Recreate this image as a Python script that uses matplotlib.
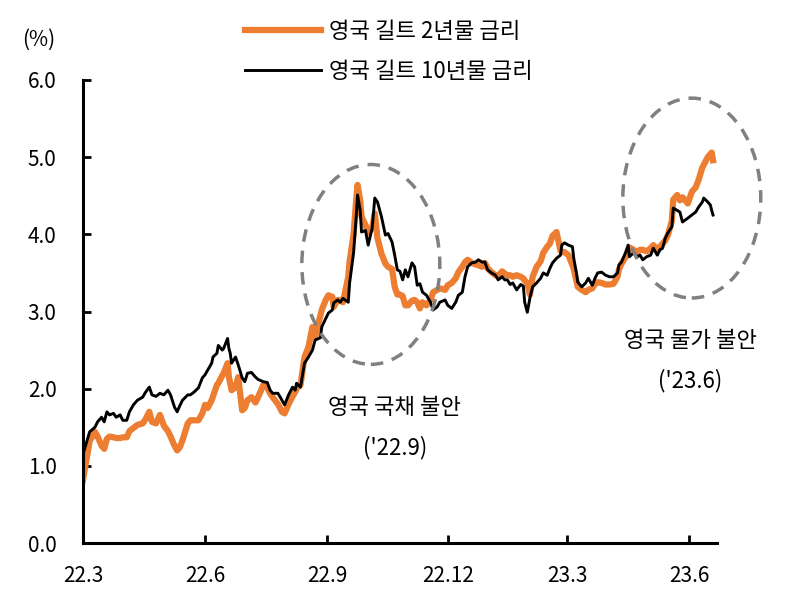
import matplotlib
matplotlib.use("Agg")
import matplotlib.pyplot as plt
import matplotlib.dates as mdates
from matplotlib.patches import Ellipse
import pandas as pd

plt.rcParams['font.family'] = ['Noto Sans CJK KR', 'DejaVu Sans']
plt.rcParams['font.weight'] = 'light'

# observation dates (shared by both series)
dates = [
    "2022-03-01", "2022-03-06", "2022-03-10", "2022-03-12", "2022-03-15", "2022-03-17", "2022-03-19", "2022-03-21", "2022-03-24", "2022-03-26",
    "2022-03-29", "2022-03-31", "2022-04-03", "2022-04-05", "2022-04-08", "2022-04-11", "2022-04-15", "2022-04-17", "2022-04-20", "2022-04-22",
    "2022-04-25", "2022-04-28", "2022-05-01", "2022-05-04", "2022-05-06", "2022-05-09", "2022-05-11", "2022-05-13", "2022-05-15", "2022-05-19",
    "2022-05-21", "2022-05-24", "2022-05-27", "2022-05-30", "2022-06-01", "2022-06-03", "2022-06-06", "2022-06-07", "2022-06-10", "2022-06-11",
    "2022-06-14", "2022-06-15", "2022-06-18", "2022-06-19", "2022-06-20", "2022-06-21", "2022-06-24", "2022-06-26", "2022-06-29", "2022-07-01",
    "2022-07-03", "2022-07-06", "2022-07-09", "2022-07-11", "2022-07-15", "2022-07-18", "2022-07-20", "2022-07-22", "2022-07-26", "2022-07-29",
    "2022-07-31", "2022-08-03", "2022-08-06", "2022-08-08", "2022-08-09", "2022-08-12", "2022-08-15", "2022-08-18", "2022-08-21", "2022-08-23",
    "2022-08-27", "2022-08-28", "2022-08-31", "2022-09-02", "2022-09-05", "2022-09-06", "2022-09-09", "2022-09-11", "2022-09-13", "2022-09-17",
    "2022-09-18", "2022-09-21", "2022-09-23", "2022-09-24", "2022-09-26", "2022-09-27", "2022-09-30", "2022-10-02", "2022-10-05", "2022-10-07",
    "2022-10-09", "2022-10-12", "2022-10-15", "2022-10-17", "2022-10-20", "2022-10-22", "2022-10-24", "2022-10-26", "2022-10-28", "2022-10-30",
    "2022-11-01", "2022-11-04", "2022-11-06", "2022-11-08", "2022-11-10", "2022-11-12", "2022-11-15", "2022-11-18", "2022-11-20", "2022-11-23",
    "2022-11-25", "2022-11-29", "2022-12-01", "2022-12-04", "2022-12-07", "2022-12-09", "2022-12-12", "2022-12-14", "2022-12-16", "2022-12-19",
    "2022-12-22", "2022-12-24", "2022-12-27", "2022-12-29", "2022-12-31", "2023-01-03", "2023-01-06", "2023-01-08", "2023-01-11", "2023-01-13",
    "2023-01-15", "2023-01-17", "2023-01-19", "2023-01-22", "2023-01-25", "2023-01-27", "2023-01-28", "2023-01-30", "2023-02-01", "2023-02-03",
    "2023-02-06", "2023-02-09", "2023-02-11", "2023-02-14", "2023-02-16", "2023-02-18", "2023-02-21", "2023-02-24", "2023-02-25", "2023-02-27",
    "2023-03-02", "2023-03-05", "2023-03-06", "2023-03-08", "2023-03-09", "2023-03-12", "2023-03-15", "2023-03-17", "2023-03-20", "2023-03-22",
    "2023-03-24", "2023-03-27", "2023-03-30", "2023-04-02", "2023-04-05", "2023-04-08", "2023-04-09", "2023-04-11", "2023-04-14", "2023-04-16",
    "2023-04-17", "2023-04-20", "2023-04-23", "2023-04-25", "2023-04-27", "2023-04-30", "2023-05-03", "2023-05-05", "2023-05-08", "2023-05-10",
    "2023-05-12", "2023-05-14", "2023-05-16", "2023-05-19", "2023-05-20", "2023-05-23", "2023-05-25", "2023-05-27", "2023-05-31", "2023-06-03",
    "2023-06-06", "2023-06-08", "2023-06-11", "2023-06-12", "2023-06-15", "2023-06-17", "2023-06-18", "2023-06-19",
]

# UK gilt 2y yield (%)
gilt_2y = [
    0.82, 1.32, 1.44, 1.38, 1.26, 1.22, 1.35, 1.38, 1.37, 1.36,
    1.36, 1.37, 1.37, 1.45, 1.49, 1.53, 1.55, 1.60, 1.70, 1.57,
    1.55, 1.66, 1.52, 1.45, 1.38, 1.26, 1.20, 1.24, 1.33, 1.55,
    1.59, 1.59, 1.59, 1.68, 1.79, 1.75, 1.85, 1.90, 2.05, 2.07,
    2.17, 2.20, 2.33, 2.15, 2.07, 1.98, 2.02, 2.15, 1.72, 1.75,
    1.85, 1.89, 1.82, 1.89, 2.05, 2.01, 1.94, 1.89, 1.80, 1.70,
    1.68, 1.80, 1.90, 1.96, 2.00, 2.05, 2.41, 2.54, 2.80, 2.67,
    2.95, 3.02, 3.15, 3.21, 3.19, 3.06, 3.15, 3.14, 3.12, 3.45,
    3.65, 4.00, 4.45, 4.64, 4.44, 4.23, 4.12, 4.02, 4.08, 4.27,
    3.95, 3.75, 3.62, 3.58, 3.55, 3.32, 3.22, 3.22, 3.20, 3.08,
    3.08, 3.14, 3.15, 3.12, 3.04, 3.12, 3.08, 3.15, 3.25, 3.28,
    3.30, 3.28, 3.34, 3.37, 3.43, 3.51, 3.58, 3.64, 3.67, 3.63,
    3.61, 3.60, 3.58, 3.63, 3.56, 3.51, 3.47, 3.46, 3.52, 3.49,
    3.47, 3.47, 3.45, 3.47, 3.45, 3.43, 3.40, 3.37, 3.22, 3.45,
    3.58, 3.65, 3.76, 3.84, 3.88, 3.98, 4.03, 3.79, 3.77, 3.77,
    3.73, 3.60, 3.55, 3.40, 3.32, 3.28, 3.25, 3.28, 3.30, 3.36,
    3.38, 3.37, 3.35, 3.35, 3.36, 3.45, 3.54, 3.62, 3.70, 3.79,
    3.83, 3.80, 3.77, 3.80, 3.80, 3.78, 3.82, 3.86, 3.80, 3.84,
    3.88, 3.92, 3.99, 4.18, 4.45, 4.51, 4.44, 4.48, 4.40, 4.55,
    4.61, 4.70, 4.87, 4.90, 5.00, 5.04, 5.06, 4.96,
]

# UK gilt 10y yield (%)
gilt_10y = [
    1.15, 1.44, 1.50, 1.57, 1.63, 1.57, 1.70, 1.66, 1.68, 1.63,
    1.66, 1.59, 1.59, 1.70, 1.79, 1.85, 1.89, 1.95, 2.02, 1.92,
    1.90, 1.94, 1.92, 1.98, 1.92, 1.76, 1.70, 1.78, 1.85, 1.92,
    1.92, 1.96, 2.01, 2.14, 2.18, 2.24, 2.33, 2.41, 2.46, 2.56,
    2.50, 2.52, 2.65, 2.52, 2.46, 2.33, 2.41, 2.31, 2.14, 2.09,
    2.20, 2.21, 2.15, 2.12, 2.09, 2.08, 1.98, 1.94, 1.94, 1.85,
    1.79, 1.92, 2.02, 1.98, 2.07, 2.02, 2.33, 2.41, 2.50, 2.63,
    2.66, 2.80, 2.91, 2.98, 3.02, 3.11, 3.15, 3.12, 3.17, 3.12,
    3.37, 3.76, 4.23, 4.51, 4.31, 4.03, 4.05, 3.86, 4.08, 4.47,
    4.42, 4.23, 3.99, 4.01, 3.90, 3.73, 3.54, 3.52, 3.41, 3.54,
    3.45, 3.63, 3.58, 3.34, 3.36, 3.25, 3.21, 3.12, 3.02, 3.06,
    3.12, 3.15, 3.08, 3.04, 3.12, 3.21, 3.25, 3.45, 3.58, 3.63,
    3.64, 3.67, 3.64, 3.64, 3.54, 3.50, 3.47, 3.41, 3.45, 3.41,
    3.41, 3.35, 3.37, 3.28, 3.35, 3.33, 3.12, 2.99, 3.18, 3.32,
    3.37, 3.43, 3.50, 3.47, 3.56, 3.63, 3.69, 3.73, 3.86, 3.89,
    3.86, 3.84, 3.69, 3.50, 3.38, 3.32, 3.37, 3.43, 3.34, 3.43,
    3.50, 3.51, 3.47, 3.45, 3.45, 3.50, 3.60, 3.64, 3.76, 3.86,
    3.71, 3.76, 3.71, 3.73, 3.67, 3.71, 3.73, 3.82, 3.73, 3.80,
    3.82, 3.95, 4.02, 4.10, 4.34, 4.31, 4.29, 4.16, 4.21, 4.25,
    4.29, 4.35, 4.42, 4.47, 4.42, 4.38, 4.31, 4.25,
]

tick_dates = ["2022-03-01", "2022-06-01", "2022-09-01", "2022-12-01", "2023-03-01", "2023-06-01"]
tick_labels = ["22.3", "22.6", "22.9", "22.12", "23.3", "23.6"]

x = pd.to_datetime(dates)

fig = plt.figure(figsize=(7.97, 6.0), dpi=100)
ax = fig.add_axes([83 / 797, 57 / 600, 634 / 797, 463 / 600])

ax.plot(x, gilt_2y, color="#ED7D31", lw=4.5, label="영국 길트 2년물 금리", zorder=2)
ax.plot(x, gilt_10y, color="black", lw=2.1, label="영국 길트 10년물 금리", zorder=3)

ax.set_ylim(0, 6)
ax.set_yticks(range(0, 7))
ax.set_yticklabels([f"{v:.1f}" for v in range(0, 7)])
ax.set_xlim(pd.Timestamp("2022-03-01"), pd.Timestamp("2023-06-22"))
ax.set_xticks(pd.to_datetime(tick_dates))
ax.set_xticklabels(tick_labels)

for s in ["top", "right"]:
    ax.spines[s].set_visible(False)
for s in ["left", "bottom"]:
    ax.spines[s].set_linewidth(2.2)
ax.tick_params(axis="both", direction="in", length=6, width=2, labelsize=15, pad=16)
ax.tick_params(axis="y", pad=19)

# dashed circles around stress periods
for cx, cy in [("2022-10-04", 3.61), ("2023-06-03", 4.47)]:
    e = Ellipse((mdates.date2num(pd.Timestamp(cx)), cy), width=104, height=2.59,
                fill=False, ec="#808080", lw=2.5, ls=(0, (3.6, 2.6)), clip_on=False, zorder=4)
    ax.add_patch(e)

ax.text(pd.Timestamp("2022-10-22"), 1.75, "영국 국채 불안", ha="center", va="center", fontsize=16)
ax.text(pd.Timestamp("2022-10-22"), 1.23, "('22.9)", ha="center", va="center", fontsize=16)
ax.text(pd.Timestamp("2023-06-02"), 2.63, "영국 물가 불안", ha="center", va="center", fontsize=16)
ax.text(pd.Timestamp("2023-06-02"), 2.10, "('23.6)", ha="center", va="center", fontsize=16)

fig.text(39 / 797, 1 - 40 / 600, "(%)", ha="center", va="center", fontsize=15)

ax.legend(loc="upper left", bbox_to_anchor=(245 / 797, 1 - 20 / 600), bbox_transform=fig.transFigure,
          frameon=False, fontsize=16, handlelength=3.4, handletextpad=0.4, labelspacing=0.75,
          borderpad=0, borderaxespad=0)

fig.savefig("out.png", dpi=100)
